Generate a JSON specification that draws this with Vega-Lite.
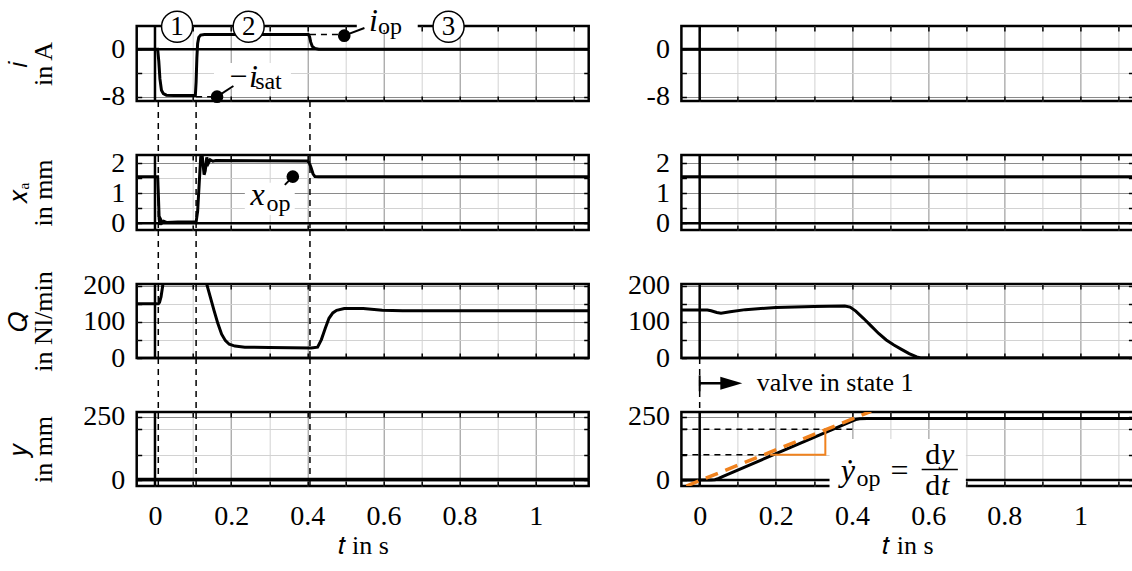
{
"$schema":"https://vega.github.io/schema/vega-lite/v6.json",
"autosize":{"type":"none"},
"padding":{"left":136.7,"top":26,"right":995.3,"bottom":545},
"background":"white",
"config":{
 "view":{"stroke":"black","strokeWidth":2.5},
 "axis":{"domain":false,"labelFont":"Liberation Serif","labelFontSize":28,"labelColor":"black","labelPadding":17,"labelOverlap":false,"labelFlush":false,"titleFont":"Liberation Serif","titleFontSize":26,"titleFontWeight":"normal","titleColor":"black","titleLineHeight":25,"tickColor":"black","tickSize":-5,"tickWidth":1.5,"gridWidth":1,"gridOpacity":1},
 "text":{"font":"Liberation Serif","fontSize":30,"color":"black","baseline":"middle"},
 "line":{"color":"black","strokeWidth":3},
 "rule":{"color":"black"}
},
"datasets":{
 "iL":[{"t":-0.048,"v":0},{"t":0.007,"v":0},{"t":0.01,"v":-2},{"t":0.013,"v":-5},{"t":0.017,"v":-6.9},{"t":0.022,"v":-7.5},{"t":0.03,"v":-7.75},{"t":0.05,"v":-7.8},{"t":0.106,"v":-7.8},{"t":0.108,"v":-5.5},{"t":0.11,"v":-1.5},{"t":0.112,"v":1.0},{"t":0.115,"v":2.0},{"t":0.12,"v":2.4},{"t":0.13,"v":2.5},{"t":0.403,"v":2.5},{"t":0.406,"v":2.1},{"t":0.409,"v":1.2},{"t":0.413,"v":0.5},{"t":0.42,"v":0.15},{"t":0.43,"v":0},{"t":1.139,"v":0}],
 "xaL":[{"t":-0.048,"v":1.55},{"t":0.007,"v":1.55},{"t":0.009,"v":0.9},{"t":0.011,"v":0.15},{"t":0.013,"v":-0.05},{"t":0.016,"v":0.1},{"t":0.019,"v":0.02},{"t":0.023,"v":0.07},{"t":0.03,"v":0.03},{"t":0.06,"v":0.04},{"t":0.108,"v":0.04},{"t":0.112,"v":0.4},{"t":0.116,"v":1.3},{"t":0.12,"v":2.2},{"t":0.123,"v":2.4},{"t":0.126,"v":2.0},{"t":0.129,"v":1.62},{"t":0.132,"v":1.75},{"t":0.136,"v":2.2},{"t":0.14,"v":2.0},{"t":0.145,"v":2.12},{"t":0.152,"v":2.07},{"t":0.16,"v":2.09},{"t":0.4,"v":2.08},{"t":0.405,"v":2.02},{"t":0.41,"v":1.85},{"t":0.415,"v":1.65},{"t":0.42,"v":1.56},{"t":0.43,"v":1.55},{"t":1.139,"v":1.55}],
 "QL":[{"t":-0.048,"v":150},{"t":0.009,"v":150},{"t":0.012,"v":154},{"t":0.016,"v":170},{"t":0.02,"v":198},{"t":0.024,"v":228},{"t":0.03,"v":260},{"t":0.12,"v":260},{"t":0.13,"v":232},{"t":0.135,"v":208},{"t":0.145,"v":170},{"t":0.155,"v":132},{"t":0.165,"v":96},{"t":0.175,"v":66},{"t":0.185,"v":48},{"t":0.195,"v":38},{"t":0.21,"v":33},{"t":0.236,"v":30},{"t":0.3,"v":29},{"t":0.41,"v":28},{"t":0.427,"v":30},{"t":0.437,"v":51},{"t":0.447,"v":82},{"t":0.457,"v":110},{"t":0.467,"v":125},{"t":0.477,"v":132},{"t":0.497,"v":137},{"t":0.547,"v":137},{"t":0.597,"v":132},{"t":0.65,"v":131},{"t":1.139,"v":131}],
 "yL":[{"t":-0.048,"v":2},{"t":1.139,"v":2}],
 "iR":[{"t":-0.048,"v":0},{"t":1.139,"v":0}],
 "xaR":[{"t":-0.048,"v":1.55},{"t":1.139,"v":1.55}],
 "QR":[{"t":-0.048,"v":133},{"t":0.02,"v":133},{"t":0.03,"v":131},{"t":0.045,"v":126},{"t":0.056,"v":124},{"t":0.08,"v":128},{"t":0.12,"v":134},{"t":0.2,"v":140},{"t":0.3,"v":143},{"t":0.381,"v":144},{"t":0.395,"v":141},{"t":0.41,"v":130},{"t":0.43,"v":110},{"t":0.45,"v":89},{"t":0.47,"v":68},{"t":0.49,"v":50},{"t":0.51,"v":36},{"t":0.53,"v":24},{"t":0.55,"v":12},{"t":0.57,"v":3},{"t":0.58,"v":0},{"t":1.139,"v":0}],
 "yR":[{"t":-0.048,"v":0},{"t":0.03,"v":0},{"t":0.04,"v":1},{"t":0.05,"v":6},{"t":0.06,"v":13},{"t":0.4,"v":233},{"t":0.41,"v":239},{"t":0.42,"v":242},{"t":0.44,"v":243},{"t":1.139,"v":243}],
 "fit":[{"t":-0.035,"v":-23.7},{"t":0.45,"v":271}],
 "tri":[{"o":1,"t":0.185,"v":100},{"o":2,"t":0.33,"v":100},{"o":3,"t":0.33,"v":198}],
 "events":[{"t":0.0087},{"t":0.108},{"t":0.407}],
 "phases":[{"n":"1","t":0.058},{"n":"2","t":0.246},{"n":"3","t":0.771}]
},
"spacing":{"row":54,"column":92.7},
"bounds":"flush",
"columns":2,
"concat":[
{"width":452,"height":75,"layer":[
 {"data":{"values":[{}]},"mark":{"type":"rule","strokeWidth":2.5},"encoding":{"x":{"datum":0,"type":"quantitative","scale":{"domain":[-0.048,1.139],"nice":false,"zero":false},"axis":{"orient":"top","values":[0,0.1,0.2,0.3,0.4,0.5,0.6,0.7,0.8,0.9,1,1.1],"labels":false,"title":null,"grid":false}}}},
 {"data":{"values":[{}]},"mark":{"type":"rule","strokeWidth":2.5},"encoding":{"y":{"datum":0,"type":"quantitative","scale":{"domain":[-8.73,3.93],"nice":false,"zero":false},"axis":{"orient":"right","values":[-8,-4,0],"labels":false,"title":null,"grid":false}}}},
 {"data":{"name":"iL"},"mark":{"type":"line","clip":true},"encoding":{
   "x":{"field":"t","type":"quantitative","scale":{"domain":[-0.048,1.139],"nice":false,"zero":false},"axis":{"orient":"bottom","values":[0,0.1,0.2,0.3,0.4,0.5,0.6,0.7,0.8,0.9,1,1.1],"labels":false,"title":null,"grid":true,"gridColor":{"condition":{"test":"abs(datum.value*5-round(datum.value*5))<0.001","value":"#8a8a8a"},"value":"#d2d2d2"}}},
   "y":{"field":"v","type":"quantitative","scale":{"domain":[-8.73,3.93],"nice":false,"zero":false},"axis":{"orient":"left","values":[-8,-4,0],"labelExpr":"datum.value===-8?'-8':(datum.value===0?'0':'')","title":["𝑖","in A"],"titleX":-118,"titleBaseline":"middle","grid":true,"gridColor":{"condition":{"test":"datum.value%8===0","value":"#8a8a8a"},"value":"#d2d2d2"}}}}},
 {"data":{"values":[{}]},"mark":{"type":"rect","color":"white"},"encoding":{"x":{"datum":0.53,"type":"quantitative","scale":{"domain":[-0.048,1.139],"nice":false,"zero":false},"axis":null},"x2":{"datum":0.69},"y":{"datum":3.2,"type":"quantitative","scale":{"domain":[-8.73,3.93],"nice":false,"zero":false},"axis":null},"y2":{"datum":5.1}}},
 {"data":{"values":[{}]},"mark":{"type":"rect","color":"white"},"encoding":{"x":{"datum":0.155,"type":"quantitative","scale":{"domain":[-0.048,1.139],"nice":false,"zero":false},"axis":null},"x2":{"datum":0.357},"y":{"datum":-2.3,"type":"quantitative","scale":{"domain":[-8.73,3.93],"nice":false,"zero":false},"axis":null},"y2":{"datum":-6.7}}},
 {"data":{"values":[{}]},"mark":{"type":"rule","strokeDash":[6,5],"strokeWidth":1.5},"encoding":{"x":{"datum":0.407,"type":"quantitative","scale":{"domain":[-0.048,1.139],"nice":false,"zero":false},"axis":null},"x2":{"datum":0.49},"y":{"datum":2.5,"type":"quantitative","scale":{"domain":[-8.73,3.93],"nice":false,"zero":false},"axis":null}}},
 {"data":{"values":[{}]},"mark":{"type":"rule","strokeDash":[6,5],"strokeWidth":1.5},"encoding":{"x":{"datum":0.108,"type":"quantitative","scale":{"domain":[-0.048,1.139],"nice":false,"zero":false},"axis":null},"x2":{"datum":0.163},"y":{"datum":-8,"type":"quantitative","scale":{"domain":[-8.73,3.93],"nice":false,"zero":false},"axis":null}}},
 {"data":{"values":[{}]},"mark":{"type":"rule","strokeWidth":2},"encoding":{"x":{"datum":0.497,"type":"quantitative","scale":{"domain":[-0.048,1.139],"nice":false,"zero":false},"axis":null},"x2":{"datum":0.55},"y":{"datum":2.3,"type":"quantitative","scale":{"domain":[-8.73,3.93],"nice":false,"zero":false},"axis":null},"y2":{"datum":3.6}}},
 {"data":{"values":[{}]},"mark":{"type":"rule","strokeWidth":2},"encoding":{"x":{"datum":0.163,"type":"quantitative","scale":{"domain":[-0.048,1.139],"nice":false,"zero":false},"axis":null},"x2":{"datum":0.206},"y":{"datum":-8,"type":"quantitative","scale":{"domain":[-8.73,3.93],"nice":false,"zero":false},"axis":null},"y2":{"datum":-6.2}}},
 {"data":{"values":[{"t":0.497,"v":2.3},{"t":0.163,"v":-8}]},"mark":{"type":"point","shape":"circle","filled":true,"color":"black","size":160,"opacity":1},"encoding":{"x":{"field":"t","type":"quantitative","scale":{"domain":[-0.048,1.139],"nice":false,"zero":false},"axis":null},"y":{"field":"v","type":"quantitative","scale":{"domain":[-8.73,3.93],"nice":false,"zero":false},"axis":null}}},
 {"data":{"name":"phases"},"mark":{"type":"point","shape":"circle","filled":true,"fill":"white","stroke":"black","strokeWidth":1.5,"size":961,"opacity":1},"encoding":{"x":{"field":"t","type":"quantitative","scale":{"domain":[-0.048,1.139],"nice":false,"zero":false},"axis":null},"y":{"datum":3.81,"type":"quantitative","scale":{"domain":[-8.73,3.93],"nice":false,"zero":false},"axis":null}}},
 {"data":{"name":"phases"},"mark":{"type":"text","fontSize":27,"align":"center"},"encoding":{"x":{"field":"t","type":"quantitative","scale":{"domain":[-0.048,1.139],"nice":false,"zero":false},"axis":null},"y":{"datum":3.81,"type":"quantitative","scale":{"domain":[-8.73,3.93],"nice":false,"zero":false},"axis":null},"text":{"field":"n"}}},
 {"data":{"values":[{}]},"mark":{"type":"text","text":"i","fontStyle":"italic","align":"left","fontSize":32},"encoding":{"x":{"datum":0.562,"type":"quantitative","scale":{"domain":[-0.048,1.139],"nice":false,"zero":false},"axis":null},"y":{"datum":4.77,"type":"quantitative","scale":{"domain":[-8.73,3.93],"nice":false,"zero":false},"axis":null}}},
 {"data":{"values":[{}]},"mark":{"type":"text","text":"op","fontSize":24,"align":"left"},"encoding":{"x":{"datum":0.586,"type":"quantitative","scale":{"domain":[-0.048,1.139],"nice":false,"zero":false},"axis":null},"y":{"datum":3.76,"type":"quantitative","scale":{"domain":[-8.73,3.93],"nice":false,"zero":false},"axis":null}}},
 {"data":{"values":[{}]},"mark":{"type":"text","text":"−i","fontStyle":"italic","align":"left","fontSize":32},"encoding":{"x":{"datum":0.19,"type":"quantitative","scale":{"domain":[-0.048,1.139],"nice":false,"zero":false},"axis":null},"y":{"datum":-4.68,"type":"quantitative","scale":{"domain":[-8.73,3.93],"nice":false,"zero":false},"axis":null}}},
 {"data":{"values":[{}]},"mark":{"type":"text","text":"sat","fontSize":24,"align":"left"},"encoding":{"x":{"datum":0.263,"type":"quantitative","scale":{"domain":[-0.048,1.139],"nice":false,"zero":false},"axis":null},"y":{"datum":-5.6,"type":"quantitative","scale":{"domain":[-8.73,3.93],"nice":false,"zero":false},"axis":null}}}
]},
{"width":452,"height":75,"layer":[
 {"data":{"values":[{}]},"mark":{"type":"rule","strokeWidth":2.5},"encoding":{"x":{"datum":0,"type":"quantitative","scale":{"domain":[-0.048,1.139],"nice":false,"zero":false},"axis":{"orient":"top","values":[0,0.1,0.2,0.3,0.4,0.5,0.6,0.7,0.8,0.9,1,1.1],"labels":false,"title":null,"grid":false}}}},
 {"data":{"values":[{}]},"mark":{"type":"rule","strokeWidth":2.5},"encoding":{"y":{"datum":0,"type":"quantitative","scale":{"domain":[-8.73,3.93],"nice":false,"zero":false},"axis":{"orient":"right","values":[-8,-4,0],"labels":false,"title":null,"grid":false}}}},
 {"data":{"name":"iR"},"mark":{"type":"line","clip":true},"encoding":{
   "x":{"field":"t","type":"quantitative","scale":{"domain":[-0.048,1.139],"nice":false,"zero":false},"axis":{"orient":"bottom","values":[0,0.1,0.2,0.3,0.4,0.5,0.6,0.7,0.8,0.9,1,1.1],"labels":false,"title":null,"grid":true,"gridColor":{"condition":{"test":"abs(datum.value*5-round(datum.value*5))<0.001","value":"#8a8a8a"},"value":"#d2d2d2"}}},
   "y":{"field":"v","type":"quantitative","scale":{"domain":[-8.73,3.93],"nice":false,"zero":false},"axis":{"orient":"left","values":[-8,-4,0],"labelExpr":"datum.value===-8?'-8':(datum.value===0?'0':'')","title":null,"grid":true,"gridColor":{"condition":{"test":"datum.value%8===0","value":"#8a8a8a"},"value":"#d2d2d2"}}}}}
]},
{"width":452,"height":75,"layer":[
 {"data":{"values":[{}]},"mark":{"type":"rule","strokeWidth":2.5},"encoding":{"x":{"datum":0,"type":"quantitative","scale":{"domain":[-0.048,1.139],"nice":false,"zero":false},"axis":{"orient":"top","values":[0,0.1,0.2,0.3,0.4,0.5,0.6,0.7,0.8,0.9,1,1.1],"labels":false,"title":null,"grid":false}}}},
 {"data":{"values":[{}]},"mark":{"type":"rule","strokeWidth":2.5},"encoding":{"y":{"datum":0,"type":"quantitative","scale":{"domain":[-0.223,2.277],"nice":false,"zero":false},"axis":{"orient":"right","values":[0,0.5,1,1.5,2],"labels":false,"title":null,"grid":false}}}},
 {"data":{"name":"xaL"},"mark":{"type":"line","clip":true},"encoding":{
   "x":{"field":"t","type":"quantitative","scale":{"domain":[-0.048,1.139],"nice":false,"zero":false},"axis":{"orient":"bottom","values":[0,0.1,0.2,0.3,0.4,0.5,0.6,0.7,0.8,0.9,1,1.1],"labels":false,"title":null,"grid":true,"gridColor":{"condition":{"test":"abs(datum.value*5-round(datum.value*5))<0.001","value":"#8a8a8a"},"value":"#d2d2d2"}}},
   "y":{"field":"v","type":"quantitative","scale":{"domain":[-0.223,2.277],"nice":false,"zero":false},"axis":{"orient":"left","values":[0,0.5,1,1.5,2],"labelExpr":"datum.value%1===0?format(datum.value,'d'):''","title":["𝑥ₐ","in mm"],"titleX":-118,"titleBaseline":"middle","grid":true,"gridColor":{"condition":{"test":"datum.value%1===0","value":"#8a8a8a"},"value":"#d2d2d2"}}}}},
 {"data":{"name":"events"},"mark":{"type":"rule","strokeDash":[6,5],"strokeWidth":1.5},"encoding":{"x":{"field":"t","type":"quantitative","scale":{"domain":[-0.048,1.139],"nice":false,"zero":false},"axis":null},"y":{"datum":4.08,"type":"quantitative","scale":{"domain":[-0.223,2.277],"nice":false,"zero":false},"axis":null},"y2":{"datum":-0.223}}},
 {"data":{"values":[{}]},"mark":{"type":"rect","color":"white"},"encoding":{"x":{"datum":0.236,"type":"quantitative","scale":{"domain":[-0.048,1.139],"nice":false,"zero":false},"axis":null},"x2":{"datum":0.367},"y":{"datum":1.35,"type":"quantitative","scale":{"domain":[-0.223,2.277],"nice":false,"zero":false},"axis":null},"y2":{"datum":0.28}}},
 {"data":{"values":[{}]},"mark":{"type":"rule","strokeWidth":2},"encoding":{"x":{"datum":0.362,"type":"quantitative","scale":{"domain":[-0.048,1.139],"nice":false,"zero":false},"axis":null},"x2":{"datum":0.341},"y":{"datum":1.557,"type":"quantitative","scale":{"domain":[-0.223,2.277],"nice":false,"zero":false},"axis":null},"y2":{"datum":1.28}}},
 {"data":{"values":[{}]},"mark":{"type":"point","shape":"circle","filled":true,"color":"black","size":160,"opacity":1},"encoding":{"x":{"datum":0.362,"type":"quantitative","scale":{"domain":[-0.048,1.139],"nice":false,"zero":false},"axis":null},"y":{"datum":1.557,"type":"quantitative","scale":{"domain":[-0.223,2.277],"nice":false,"zero":false},"axis":null}}},
 {"data":{"values":[{}]},"mark":{"type":"text","text":"x","fontStyle":"italic","align":"left","fontSize":32},"encoding":{"x":{"datum":0.251,"type":"quantitative","scale":{"domain":[-0.048,1.139],"nice":false,"zero":false},"axis":null},"y":{"datum":0.93,"type":"quantitative","scale":{"domain":[-0.223,2.277],"nice":false,"zero":false},"axis":null}}},
 {"data":{"values":[{}]},"mark":{"type":"text","text":"op","fontSize":24,"align":"left"},"encoding":{"x":{"datum":0.293,"type":"quantitative","scale":{"domain":[-0.048,1.139],"nice":false,"zero":false},"axis":null},"y":{"datum":0.647,"type":"quantitative","scale":{"domain":[-0.223,2.277],"nice":false,"zero":false},"axis":null}}}
]},
{"width":452,"height":75,"layer":[
 {"data":{"values":[{}]},"mark":{"type":"rule","strokeWidth":2.5},"encoding":{"x":{"datum":0,"type":"quantitative","scale":{"domain":[-0.048,1.139],"nice":false,"zero":false},"axis":{"orient":"top","values":[0,0.1,0.2,0.3,0.4,0.5,0.6,0.7,0.8,0.9,1,1.1],"labels":false,"title":null,"grid":false}}}},
 {"data":{"values":[{}]},"mark":{"type":"rule","strokeWidth":2.5},"encoding":{"y":{"datum":0,"type":"quantitative","scale":{"domain":[-0.223,2.277],"nice":false,"zero":false},"axis":{"orient":"right","values":[0,0.5,1,1.5,2],"labels":false,"title":null,"grid":false}}}},
 {"data":{"name":"xaR"},"mark":{"type":"line","clip":true},"encoding":{
   "x":{"field":"t","type":"quantitative","scale":{"domain":[-0.048,1.139],"nice":false,"zero":false},"axis":{"orient":"bottom","values":[0,0.1,0.2,0.3,0.4,0.5,0.6,0.7,0.8,0.9,1,1.1],"labels":false,"title":null,"grid":true,"gridColor":{"condition":{"test":"abs(datum.value*5-round(datum.value*5))<0.001","value":"#8a8a8a"},"value":"#d2d2d2"}}},
   "y":{"field":"v","type":"quantitative","scale":{"domain":[-0.223,2.277],"nice":false,"zero":false},"axis":{"orient":"left","values":[0,0.5,1,1.5,2],"labelExpr":"datum.value%1===0?format(datum.value,'d'):''","title":null,"grid":true,"gridColor":{"condition":{"test":"datum.value%1===0","value":"#8a8a8a"},"value":"#d2d2d2"}}}}}
]},
{"width":452,"height":74,"layer":[
 {"data":{"values":[{}]},"mark":{"type":"rule","strokeWidth":2.5},"encoding":{"x":{"datum":0,"type":"quantitative","scale":{"domain":[-0.048,1.139],"nice":false,"zero":false},"axis":{"orient":"top","values":[0,0.1,0.2,0.3,0.4,0.5,0.6,0.7,0.8,0.9,1,1.1],"labels":false,"title":null,"grid":false}}}},
 {"data":{"values":[{}]},"mark":{"type":"rule","strokeWidth":2.5},"encoding":{"y":{"datum":0,"type":"quantitative","scale":{"domain":[0,205],"nice":false,"zero":false},"axis":{"orient":"right","values":[0,50,100,150,200],"labels":false,"title":null,"grid":false}}}},
 {"data":{"name":"QL"},"mark":{"type":"line","clip":true},"encoding":{
   "x":{"field":"t","type":"quantitative","scale":{"domain":[-0.048,1.139],"nice":false,"zero":false},"axis":{"orient":"bottom","values":[0,0.1,0.2,0.3,0.4,0.5,0.6,0.7,0.8,0.9,1,1.1],"labels":false,"title":null,"grid":true,"gridColor":{"condition":{"test":"abs(datum.value*5-round(datum.value*5))<0.001","value":"#8a8a8a"},"value":"#d2d2d2"}}},
   "y":{"field":"v","type":"quantitative","scale":{"domain":[0,205],"nice":false,"zero":false},"axis":{"orient":"left","values":[0,50,100,150,200],"labelExpr":"datum.value%100===0?format(datum.value,'d'):''","title":["𝑄","in Nl/min"],"titleX":-118,"titleBaseline":"middle","grid":true,"gridColor":{"condition":{"test":"datum.value%100===0","value":"#8a8a8a"},"value":"#d2d2d2"}}}}},
 {"data":{"name":"events"},"mark":{"type":"rule","strokeDash":[6,5],"strokeWidth":1.5},"encoding":{"x":{"field":"t","type":"quantitative","scale":{"domain":[-0.048,1.139],"nice":false,"zero":false},"axis":null},"y":{"datum":354.6,"type":"quantitative","scale":{"domain":[0,205],"nice":false,"zero":false},"axis":null},"y2":{"datum":0}}}
]},
{"width":452,"height":74,"layer":[
 {"data":{"values":[{}]},"mark":{"type":"rule","strokeWidth":2.5},"encoding":{"x":{"datum":0,"type":"quantitative","scale":{"domain":[-0.048,1.139],"nice":false,"zero":false},"axis":{"orient":"top","values":[0,0.1,0.2,0.3,0.4,0.5,0.6,0.7,0.8,0.9,1,1.1],"labels":false,"title":null,"grid":false}}}},
 {"data":{"values":[{}]},"mark":{"type":"rule","strokeWidth":2.5},"encoding":{"y":{"datum":0,"type":"quantitative","scale":{"domain":[0,205],"nice":false,"zero":false},"axis":{"orient":"right","values":[0,50,100,150,200],"labels":false,"title":null,"grid":false}}}},
 {"data":{"name":"QR"},"mark":{"type":"line","clip":true},"encoding":{
   "x":{"field":"t","type":"quantitative","scale":{"domain":[-0.048,1.139],"nice":false,"zero":false},"axis":{"orient":"bottom","values":[0,0.1,0.2,0.3,0.4,0.5,0.6,0.7,0.8,0.9,1,1.1],"labels":false,"title":null,"grid":true,"gridColor":{"condition":{"test":"abs(datum.value*5-round(datum.value*5))<0.001","value":"#8a8a8a"},"value":"#d2d2d2"}}},
   "y":{"field":"v","type":"quantitative","scale":{"domain":[0,205],"nice":false,"zero":false},"axis":{"orient":"left","values":[0,50,100,150,200],"labelExpr":"datum.value%100===0?format(datum.value,'d'):''","title":null,"grid":true,"gridColor":{"condition":{"test":"datum.value%100===0","value":"#8a8a8a"},"value":"#d2d2d2"}}}}},
 {"data":{"values":[{}]},"mark":{"type":"rule","strokeDash":[6,5],"strokeWidth":1.5},"encoding":{"x":{"datum":0,"type":"quantitative","scale":{"domain":[-0.048,1.139],"nice":false,"zero":false},"axis":null},"y":{"datum":0,"type":"quantitative","scale":{"domain":[0,205],"nice":false,"zero":false},"axis":null},"y2":{"datum":-150}}},
 {"data":{"values":[{}]},"mark":{"type":"rule","strokeWidth":2},"encoding":{"x":{"datum":0,"type":"quantitative","scale":{"domain":[-0.048,1.139],"nice":false,"zero":false},"axis":null},"y":{"datum":-48,"type":"quantitative","scale":{"domain":[0,205],"nice":false,"zero":false},"axis":null},"y2":{"datum":-92}}},
 {"data":{"values":[{}]},"mark":{"type":"rule","strokeWidth":2.5},"encoding":{"x":{"datum":0,"type":"quantitative","scale":{"domain":[-0.048,1.139],"nice":false,"zero":false},"axis":null},"x2":{"datum":0.07},"y":{"datum":-70,"type":"quantitative","scale":{"domain":[0,205],"nice":false,"zero":false},"axis":null}}},
 {"data":{"values":[{}]},"mark":{"type":"point","shape":"M-1,-0.6L1,0L-1,0.6Z","filled":true,"color":"black","size":484,"opacity":1},"encoding":{"x":{"datum":0.083,"type":"quantitative","scale":{"domain":[-0.048,1.139],"nice":false,"zero":false},"axis":null},"y":{"datum":-70,"type":"quantitative","scale":{"domain":[0,205],"nice":false,"zero":false},"axis":null}}},
 {"data":{"values":[{}]},"mark":{"type":"text","text":"valve in state 1","fontSize":26,"align":"left"},"encoding":{"x":{"datum":0.15,"type":"quantitative","scale":{"domain":[-0.048,1.139],"nice":false,"zero":false},"axis":null},"y":{"datum":-70,"type":"quantitative","scale":{"domain":[0,205],"nice":false,"zero":false},"axis":null}}}
]},
{"width":452,"height":74,"layer":[
 {"data":{"values":[{}]},"mark":{"type":"rule","strokeWidth":2.5},"encoding":{"x":{"datum":0,"type":"quantitative","scale":{"domain":[-0.048,1.139],"nice":false,"zero":false},"axis":{"orient":"top","values":[0,0.1,0.2,0.3,0.4,0.5,0.6,0.7,0.8,0.9,1,1.1],"labels":false,"title":null,"grid":false}}}},
 {"data":{"values":[{}]},"mark":{"type":"rule","strokeWidth":2.5},"encoding":{"y":{"datum":0,"type":"quantitative","scale":{"domain":[-23.7,268.6],"nice":false,"zero":false},"axis":{"orient":"right","values":[0,100,200,250],"labels":false,"title":null,"grid":false}}}},
 {"data":{"name":"yL"},"mark":{"type":"line","clip":true,"strokeWidth":3.5},"encoding":{
   "x":{"field":"t","type":"quantitative","scale":{"domain":[-0.048,1.139],"nice":false,"zero":false},"axis":{"orient":"bottom","values":[0,0.1,0.2,0.3,0.4,0.5,0.6,0.7,0.8,0.9,1,1.1],"labelExpr":"abs(datum.value*5-round(datum.value*5))<0.001 ? format(datum.value,'~g') : ''","labelPadding":21,"title":"𝑡 in s","titlePadding":2,"grid":true,"gridColor":{"condition":{"test":"abs(datum.value*5-round(datum.value*5))<0.001","value":"#8a8a8a"},"value":"#d2d2d2"}}},
   "y":{"field":"v","type":"quantitative","scale":{"domain":[-23.7,268.6],"nice":false,"zero":false},"axis":{"orient":"left","values":[0,100,200,250],"labelExpr":"(datum.value===0||datum.value===250)?format(datum.value,'d'):''","title":["𝑦","in mm"],"titleX":-118,"titleBaseline":"middle","grid":true,"gridColor":{"condition":{"test":"datum.value%250===0","value":"#8a8a8a"},"value":"#d2d2d2"}}}}},
 {"data":{"name":"events"},"mark":{"type":"rule","strokeDash":[6,5],"strokeWidth":1.5},"encoding":{"x":{"field":"t","type":"quantitative","scale":{"domain":[-0.048,1.139],"nice":false,"zero":false},"axis":null},"y":{"datum":481.9,"type":"quantitative","scale":{"domain":[-23.7,268.6],"nice":false,"zero":false},"axis":null},"y2":{"datum":-23.7}}}
]},
{"width":452,"height":74,"layer":[
 {"data":{"values":[{}]},"mark":{"type":"rule","strokeWidth":2.5},"encoding":{"x":{"datum":0,"type":"quantitative","scale":{"domain":[-0.048,1.139],"nice":false,"zero":false},"axis":{"orient":"top","values":[0,0.1,0.2,0.3,0.4,0.5,0.6,0.7,0.8,0.9,1,1.1],"labels":false,"title":null,"grid":false}}}},
 {"data":{"values":[{}]},"mark":{"type":"rule","strokeWidth":2.5},"encoding":{"y":{"datum":0,"type":"quantitative","scale":{"domain":[-23.7,268.6],"nice":false,"zero":false},"axis":{"orient":"right","values":[0,100,200,250],"labels":false,"title":null,"grid":false}}}},
 {"data":{"name":"yR"},"mark":{"type":"line","clip":true},"encoding":{
   "x":{"field":"t","type":"quantitative","scale":{"domain":[-0.048,1.139],"nice":false,"zero":false},"axis":{"orient":"bottom","values":[0,0.1,0.2,0.3,0.4,0.5,0.6,0.7,0.8,0.9,1,1.1],"labelExpr":"abs(datum.value*5-round(datum.value*5))<0.001 ? format(datum.value,'~g') : ''","labelPadding":21,"title":"𝑡 in s","titlePadding":2,"grid":true,"gridColor":{"condition":{"test":"abs(datum.value*5-round(datum.value*5))<0.001","value":"#8a8a8a"},"value":"#d2d2d2"}}},
   "y":{"field":"v","type":"quantitative","scale":{"domain":[-23.7,268.6],"nice":false,"zero":false},"axis":{"orient":"left","values":[0,100,200,250],"labelExpr":"(datum.value===0||datum.value===250)?format(datum.value,'d'):''","title":null,"grid":true,"gridColor":{"condition":{"test":"datum.value%250===0","value":"#8a8a8a"},"value":"#d2d2d2"}}}}},
 {"data":{"values":[{"a":-0.048,"b":0.41,"v":200},{"a":-0.048,"b":0.185,"v":100}]},"mark":{"type":"rule","strokeDash":[6,5],"strokeWidth":1.5},"encoding":{"x":{"field":"a","type":"quantitative","scale":{"domain":[-0.048,1.139],"nice":false,"zero":false},"axis":null},"x2":{"field":"b"},"y":{"field":"v","type":"quantitative","scale":{"domain":[-23.7,268.6],"nice":false,"zero":false},"axis":null}}},
 {"data":{"name":"tri"},"mark":{"type":"line","color":"#f0821e","strokeWidth":2},"encoding":{"x":{"field":"t","type":"quantitative","scale":{"domain":[-0.048,1.139],"nice":false,"zero":false},"axis":null},"y":{"field":"v","type":"quantitative","scale":{"domain":[-23.7,268.6],"nice":false,"zero":false},"axis":null},"order":{"field":"o"}}},
 {"data":{"name":"fit"},"mark":{"type":"line","color":"#f0821e","strokeWidth":3.5,"strokeDash":[13,8],"clip":true},"encoding":{"x":{"field":"t","type":"quantitative","scale":{"domain":[-0.048,1.139],"nice":false,"zero":false},"axis":null},"y":{"field":"v","type":"quantitative","scale":{"domain":[-23.7,268.6],"nice":false,"zero":false},"axis":null}}},
 {"data":{"values":[{}]},"mark":{"type":"rect","color":"white"},"encoding":{"x":{"datum":0.341,"type":"quantitative","scale":{"domain":[-0.048,1.139],"nice":false,"zero":false},"axis":null},"x2":{"datum":0.699},"y":{"datum":162,"type":"quantitative","scale":{"domain":[-23.7,268.6],"nice":false,"zero":false},"axis":null},"y2":{"datum":-72}}},
 {"data":{"values":[{}]},"mark":{"type":"text","text":"ẏ","fontStyle":"italic","align":"center","fontSize":32},"encoding":{"x":{"datum":0.389,"type":"quantitative","scale":{"domain":[-0.048,1.139],"nice":false,"zero":false},"axis":null},"y":{"datum":35,"type":"quantitative","scale":{"domain":[-23.7,268.6],"nice":false,"zero":false},"axis":null}}},
 {"data":{"values":[{}]},"mark":{"type":"text","text":"op","fontSize":24,"align":"left"},"encoding":{"x":{"datum":0.412,"type":"quantitative","scale":{"domain":[-0.048,1.139],"nice":false,"zero":false},"axis":null},"y":{"datum":2,"type":"quantitative","scale":{"domain":[-23.7,268.6],"nice":false,"zero":false},"axis":null}}},
 {"data":{"values":[{}]},"mark":{"type":"text","text":"=","align":"center","fontSize":32},"encoding":{"x":{"datum":0.525,"type":"quantitative","scale":{"domain":[-0.048,1.139],"nice":false,"zero":false},"axis":null},"y":{"datum":37,"type":"quantitative","scale":{"domain":[-23.7,268.6],"nice":false,"zero":false},"axis":null}}},
 {"data":{"values":[{}]},"mark":{"type":"rule","strokeWidth":1.5},"encoding":{"x":{"datum":0.583,"type":"quantitative","scale":{"domain":[-0.048,1.139],"nice":false,"zero":false},"axis":null},"x2":{"datum":0.678},"y":{"datum":41,"type":"quantitative","scale":{"domain":[-23.7,268.6],"nice":false,"zero":false},"axis":null}}},
 {"data":{"values":[{}]},"mark":{"type":"text","text":"d","align":"right","fontSize":30},"encoding":{"x":{"datum":0.632,"type":"quantitative","scale":{"domain":[-0.048,1.139],"nice":false,"zero":false},"axis":null},"y":{"datum":100,"type":"quantitative","scale":{"domain":[-23.7,268.6],"nice":false,"zero":false},"axis":null}}},
 {"data":{"values":[{}]},"mark":{"type":"text","text":"y","fontStyle":"italic","align":"left","fontSize":30},"encoding":{"x":{"datum":0.634,"type":"quantitative","scale":{"domain":[-0.048,1.139],"nice":false,"zero":false},"axis":null},"y":{"datum":100,"type":"quantitative","scale":{"domain":[-23.7,268.6],"nice":false,"zero":false},"axis":null}}},
 {"data":{"values":[{}]},"mark":{"type":"text","text":"d","align":"right","fontSize":30},"encoding":{"x":{"datum":0.632,"type":"quantitative","scale":{"domain":[-0.048,1.139],"nice":false,"zero":false},"axis":null},"y":{"datum":-22,"type":"quantitative","scale":{"domain":[-23.7,268.6],"nice":false,"zero":false},"axis":null}}},
 {"data":{"values":[{}]},"mark":{"type":"text","text":"t","fontStyle":"italic","align":"left","fontSize":30},"encoding":{"x":{"datum":0.634,"type":"quantitative","scale":{"domain":[-0.048,1.139],"nice":false,"zero":false},"axis":null},"y":{"datum":-22,"type":"quantitative","scale":{"domain":[-23.7,268.6],"nice":false,"zero":false},"axis":null}}}
]}
]
}
